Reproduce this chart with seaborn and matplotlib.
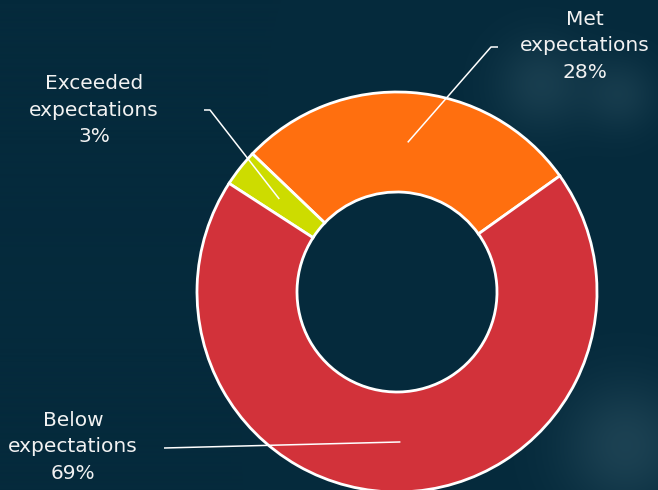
import numpy as np
import matplotlib
matplotlib.use("Agg")
import matplotlib.pyplot as plt
import seaborn as sns

categories = ["Met\nexpectations", "Exceeded\nexpectations", "Below\nexpectations"]
values = [28, 3, 69]
colors = ["#ff6f0f", "#cddc00", "#d2323a"]

BG = "#052a3c"
sns.set_theme(style="dark", rc={"axes.facecolor": BG, "figure.facecolor": BG})
plt.rcParams["font.family"] = ["DejaVu Sans"]

W, H = 658, 490
fig = plt.figure(figsize=(W / 100, H / 100), dpi=100)
fig.patch.set_facecolor(BG)

# soft glow spots in the background
bg = fig.add_axes([0, 0, 1, 1], zorder=0)
yy, xx = np.mgrid[0:H, 0:W]
glow = np.zeros((H, W))
for (gx, gy, s, a) in [(540, 85, 32, 0.14), (620, 95, 26, 0.12), (625, 445, 45, 0.17)]:
    glow += a * np.exp(-((xx - gx) ** 2 + (yy - gy) ** 2) / (2 * s ** 2))
base = np.array(matplotlib.colors.to_rgb(BG))
light = np.array([0.55, 0.7, 0.75])
img = base[None, None, :] + glow[..., None] * (light - base)[None, None, :]
bg.imshow(np.clip(img, 0, 1), extent=[0, W, H, 0], aspect="auto")
bg.set_xlim(0, W); bg.set_ylim(H, 0)
bg.axis("off")

ax = fig.add_axes([0, 0, 1, 1], zorder=1)
ax.patch.set_alpha(0)
cx, cy, R = 397, H - 292, 200
wedges, _ = ax.pie(values, colors=colors, startangle=35.5, counterclock=True,
                   center=(cx, cy), radius=R, frame=True,
                   wedgeprops=dict(width=R * 0.5, edgecolor="white", linewidth=2.0))
ax.set_xlim(0, W)
ax.set_ylim(0, H)
ax.set_aspect("equal")
ax.axis("off")

pct = [f"{v}%" for v in values]
# label anchor positions (pixel coords from top) and leader bends
layout = [
    dict(text=(585, 46), bend=(491, 47), end=(498, 47)),
    dict(text=(94, 110), bend=(210, 110), end=(204, 110)),
    dict(text=(73, 447), bend=(164, 448), end=(164, 448)),
]
for w, cat, p, lay in zip(wedges, categories, pct, layout):
    mid = np.deg2rad((w.theta1 + w.theta2) / 2)
    sx = cx + 0.75 * R * np.cos(mid)
    sy = cy + 0.75 * R * np.sin(mid)
    bx, by = lay["bend"][0], H - lay["bend"][1]
    ex, ey = lay["end"][0], H - lay["end"][1]
    ax.plot([sx, bx, ex], [sy, by, ey], color="white", lw=1.1, zorder=5,
            solid_capstyle="butt")
    tx, ty = lay["text"][0], H - lay["text"][1]
    ax.text(tx, ty, f"{cat}\n{p}", ha="center", va="center", color="#f2f2f2",
            fontsize=14.5, linespacing=1.5)

fig.savefig("out.png", dpi=100, facecolor=BG)
